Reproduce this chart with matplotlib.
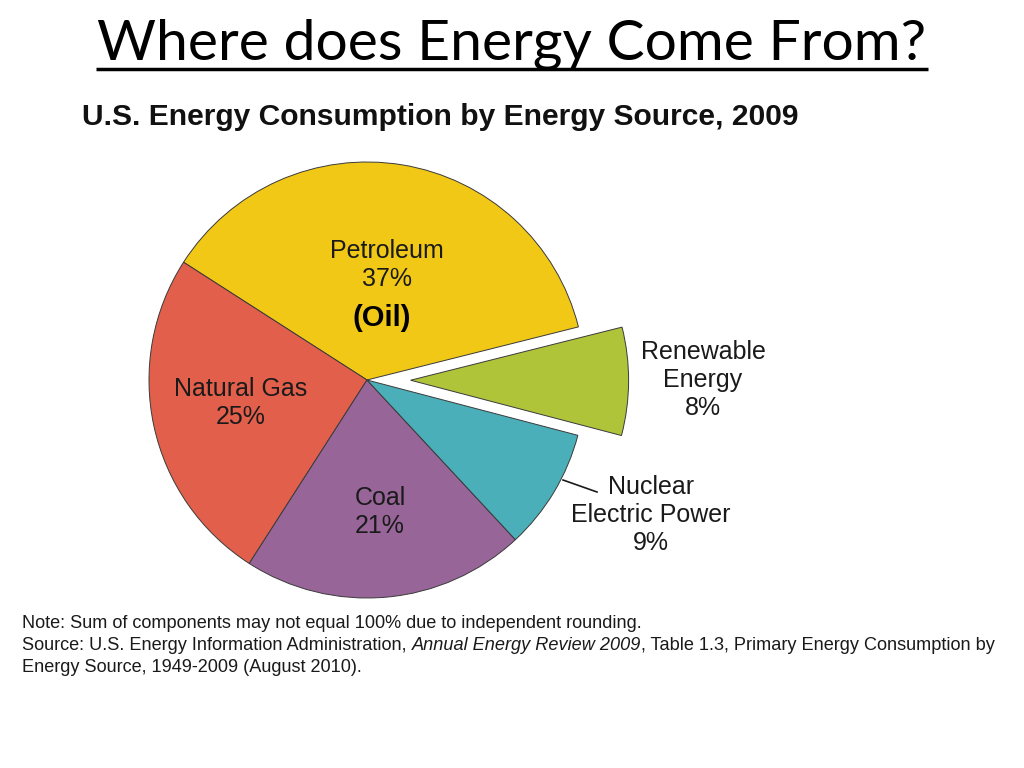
import matplotlib
matplotlib.use("Agg")
import matplotlib.pyplot as plt
from matplotlib import font_manager

names = ["Petroleum", "Natural Gas", "Coal", "Nuclear\nElectric Power", "Renewable\nEnergy"]
shares = [37, 25, 21, 9, 8]
colors = ["#F1C816", "#E2604B", "#986598", "#4BAFBA", "#B0C43A"]
explode = [0, 0, 0, 0, 0.2]

avail = {f.name for f in font_manager.fontManager.ttflist}
narrow = "Liberation Sans Narrow" if "Liberation Sans Narrow" in avail else "Liberation Sans"

W, H = 1024, 768
fig = plt.figure(figsize=(W / 100, H / 100), dpi=100)
bg = fig.add_axes([0, 0, 1, 1])
bg.set_xlim(0, W)
bg.set_ylim(H, 0)
bg.axis("off")

# Title
bg.text(512, 44, "Where does Energy Come From?", ha="center", va="center",
        fontsize=41, family="Lato", color="black")
bg.plot([96, 928], [69, 69], color="black", lw=2.5, solid_capstyle="butt")
bg.text(82, 117, "U.S. Energy Consumption by Energy Source, 2009", ha="left", va="center",
        fontsize=21.6, family=narrow, fontweight="bold", color="#111111")

# Pie
cx, cy, R = 367, 380, 218
half = 300
ax = fig.add_axes([(cx - half) / W, (H - cy - half) / H, 2 * half / W, 2 * half / H])
ax.pie(shares, colors=colors, explode=explode, startangle=14.1, counterclock=True,
       radius=1, wedgeprops=dict(edgecolor="#3a3a3a", linewidth=0.7))
ax.set_aspect("auto")
ax.set_xlim(-half / R, half / R)
ax.set_ylim(-half / R, half / R)
ax.axis("off")

def P(px, py):
    return (px - cx) / R, (cy - py) / R

label_pos = [(387, 265), (241, 403), (380, 512), (651, 515), (703, 380)]
for name, v, (px, py) in zip(names, shares, label_pos):
    ax.text(*P(px, py), f"{name}\n{v}%", ha="center", va="center", fontsize=18,
            family="Liberation Sans", color="#1a1a1a", linespacing=1.2)
ax.text(*P(382, 318), "(Oil)", ha="center", va="center", fontsize=21,
        family="Liberation Sans", fontweight="bold", color="black")
ax.plot(*zip(P(563, 480), P(597, 492)), color="#1a1a1a", lw=1.2)

# Notes
fs = 13.05
bg.text(22, 624, "Note: Sum of components may not equal 100% due to independent rounding.",
        ha="left", va="center", fontsize=fs, family=narrow, color="#1a1a1a")
fig.canvas.draw()
r = fig.canvas.get_renderer()
x = 22
for seg, st in [("Source: U.S. Energy Information Administration, ", "normal"),
                ("Annual Energy Review 2009", "italic"),
                (", Table 1.3, Primary Energy Consumption by", "normal")]:
    t = bg.text(x, 646, seg, ha="left", va="center", fontsize=fs, family=narrow,
                style=st, color="#1a1a1a")
    bb = t.get_window_extent(renderer=r)
    x += bb.width
bg.text(22, 668, "Energy Source, 1949-2009 (August 2010).", ha="left", va="center",
        fontsize=fs, family=narrow, color="#1a1a1a")

fig.savefig("out.png", dpi=100)
